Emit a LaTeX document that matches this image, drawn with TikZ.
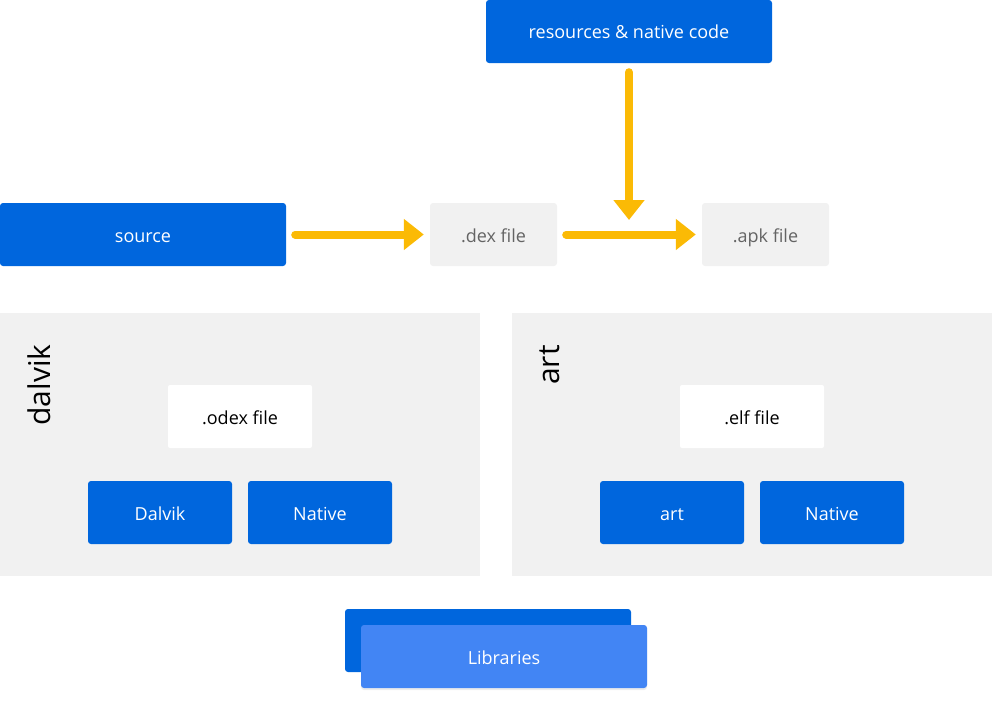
\documentclass[tikz,border=0pt]{standalone}
\usepackage{fontspec}
\setmainfont{Open Sans}
\usetikzlibrary{positioning,arrows.meta,shadows}
\definecolor{apkblue}{RGB}{0,102,221}
\definecolor{liteblue}{RGB}{66,133,244}
\definecolor{flowyellow}{RGB}{251,186,5}
\definecolor{panelgray}{RGB}{241,241,241}
\definecolor{textgray}{RGB}{100,100,100}

\begin{document}
\begin{tikzpicture}[x=1pt,y=-1pt,>={Triangle[length=20pt,width=30pt]},
    boxtext/.style={inner sep=0pt,text height=15pt,text depth=0pt,
      font=\fontsize{18}{21}\selectfont},
    bluebox/.style={boxtext,fill=apkblue,text=white,rounded corners=3pt,
      minimum height=63pt},
    filebox/.style={boxtext,fill=panelgray,text=textgray,rounded corners=3pt,
      minimum width=127pt,minimum height=63pt},
    whitebox/.style={boxtext,fill=white,text=black,rounded corners=2pt,
      minimum width=144pt,minimum height=63pt},
    panel/.style={fill=panelgray,inner sep=0pt,minimum width=480pt,minimum height=263pt},
    flow/.style={->,draw=flowyellow,line width=8pt,line cap=round}]
    \useasboundingbox (0,0) rectangle (992,701);

    % top row
    \draw (629,31.5)  node[bluebox,minimum width=286pt] (res) {resources \& native code} ;
    \draw (143,234.5) node[bluebox,minimum width=286pt] (src) {source} ;
    \draw (493.5,234.5) node[filebox] (dex) {.dex file} ;
    \draw (765.5,234.5) node[filebox] (apk) {.apk file} ;
    \coordinate (merge) at (629,220);

    \draw[flow,shorten <=9pt,shorten >=6pt] (src) -- (dex);
    \draw[flow,shorten <=9pt,shorten >=6pt] (dex) -- (apk);
    \draw[flow,shorten <=9pt] (res) -- (merge);

    % runtimes
    \draw (240,444.5) node[panel] (dvmpanel) {} ;
    \draw (752,444.5) node[panel] (artpanel) {} ;
    \draw (39,385) node[rotate=90,font=\fontsize{30}{34}\selectfont] (dvmlabel) {dalvik} ;
    \draw (550,365) node[rotate=90,font=\fontsize{30}{34}\selectfont] (artlabel) {art} ;

    \draw (240,416.5) node[whitebox] (odex) {.odex file} ;
    \draw (160,512.5) node[bluebox,minimum width=144pt] (dvm) {Dalvik} ;
    \draw (320,512.5) node[bluebox,minimum width=144pt] (dvmnative) {Native} ;

    \draw (752,416.5) node[whitebox] (elf) {.elf file} ;
    \draw (672,512.5) node[bluebox,minimum width=144pt] (artrt) {art} ;
    \draw (832,512.5) node[bluebox,minimum width=144pt] (artnative) {Native} ;

    % libraries stack
    \draw (488,640.5) node[bluebox,minimum width=286pt] (libback) {} ;
    \draw (504,656.5) node[bluebox,fill=liteblue,minimum width=286pt,
      drop shadow={opacity=0.15,shadow xshift=0pt,shadow yshift=-2pt}] (libs) {Libraries} ;
  \end{tikzpicture}
\end{document}
